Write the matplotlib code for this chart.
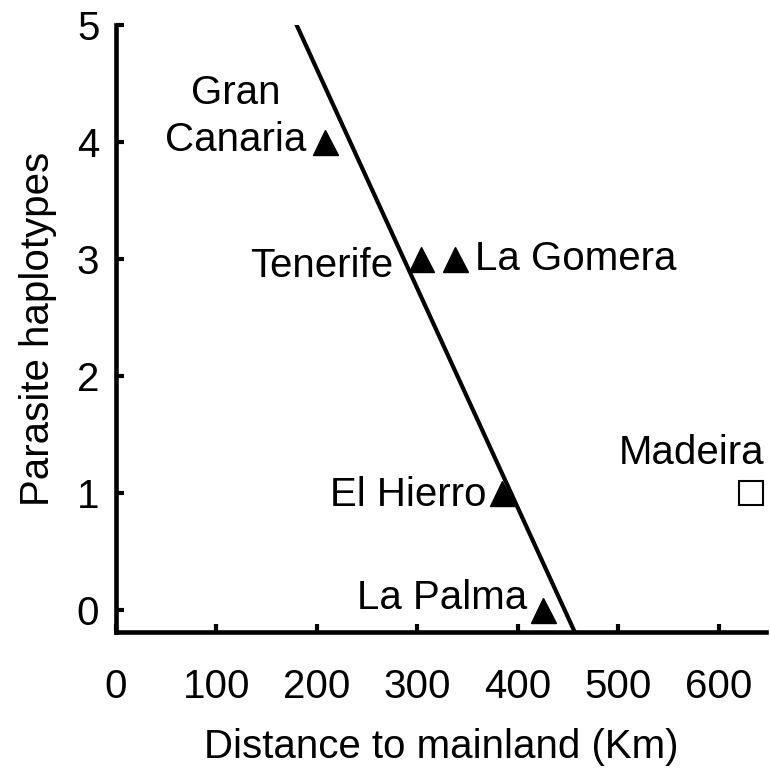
import matplotlib

matplotlib.use("Agg")
import matplotlib.pyplot as plt
import numpy as np

plt.rcParams['font.family'] = ['Liberation Sans', 'DejaVu Sans']

# Canary islands (triangles) and Madeira (open square)
islands = ["Gran\nCanaria", "Tenerife", "La Gomera", "El Hierro", "La Palma"]
distance = [208, 304, 338, 384, 425]
haplotypes = [4, 3, 3, 1, 0]

madeira_distance = 632
madeira_haplotypes = 1

# fitted line y = a + b * x
fit_a = 8.37
fit_b = -0.01874

# label anchor (x, y, ha) for each point
label_pos = [
    (119, 4.22, 'center'),
    (276, 2.94, 'right'),
    (357, 3.0, 'left'),
    (369, 0.98, 'right'),
    (409, 0.10, 'right'),
]

FS = 29


def main() -> None:
    fig = plt.figure(figsize=(7.7, 7.69), dpi=100)
    ax = fig.add_axes([0.1506, 0.178, 0.844, 0.7895])

    xs = np.array([150, 470])
    ax.plot(xs, fit_a + fit_b * xs, color='black', lw=3, zorder=2)

    ax.plot(distance, haplotypes, linestyle='none', marker='^',
            markersize=18, color='black', zorder=3)
    ax.plot([madeira_distance], [madeira_haplotypes], linestyle='none',
            marker='s', markersize=17, markerfacecolor='white',
            markeredgecolor='black', markeredgewidth=1.5, zorder=3)

    for name, (tx, ty, ha) in zip(islands, label_pos):
        ax.text(tx, ty, name, ha=ha, va='center', fontsize=FS,
                multialignment='center', linespacing=1.3)
    ax.text(646, 1.34, "Madeira", ha='right', va='center', fontsize=FS)

    ax.set_xlim(0, 647)
    ax.set_ylim(-0.19, 5)
    ax.set_xticks(range(0, 601, 100))
    ax.set_yticks(range(0, 6))

    for side in ('top', 'right'):
        ax.spines[side].set_visible(False)
    for side in ('left', 'bottom'):
        ax.spines[side].set_linewidth(3.3)

    ax.tick_params(direction='in', length=6, width=3, labelsize=FS)
    ax.tick_params(axis='x', pad=26)
    ax.tick_params(axis='y', pad=12)
    ax.set_xlabel("Distance to mainland (Km)", fontsize=FS, labelpad=16)
    ax.set_ylabel("Parasite haplotypes", fontsize=FS, labelpad=14)

    fig.savefig("out.png", dpi=100)


if __name__ == '__main__':
    main()
